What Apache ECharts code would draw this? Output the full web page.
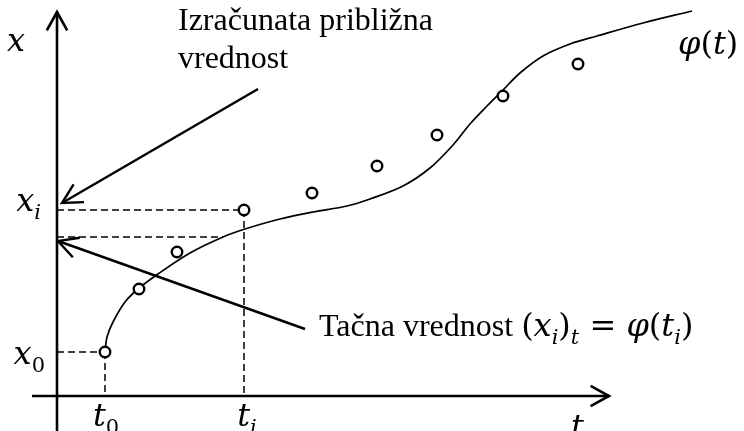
<!DOCTYPE html>
<html>
<head>
<meta charset="utf-8">
<script src="https://cdn.jsdelivr.net/npm/echarts@6/dist/echarts.min.js"></script>
<style>
  html, body { margin: 0; padding: 0; background: #fff; }
  #chart { width: 744px; height: 431px; }
</style>
</head>
<body>
<div id="chart"></div>
<script>
// Computed (approximate) values x_k at the nodes t_k
const tNodes  = [4.8, 8.2, 12.0, 18.7, 25.5, 32.0, 38.0, 44.6, 52.1];
const xApprox = [4.4, 10.7, 14.4, 18.6, 20.3, 23.0, 26.1, 30.0, 33.2];

// Exact solution phi(t), sampled along the curve
const tExact = [4.8, 5.0, 5.6, 6.8, 8.1, 10.1, 13.3, 16.6, 18.8, 22.3, 25.6, 29.0, 31.3,
                34.6, 37.3, 39.6, 41.3, 43.0, 44.6, 46.3, 48.6, 51.3, 54.0, 58.6, 63.5];
const xExact = [4.4, 5.9, 7.4, 9.4, 10.7, 12.2, 14.3, 15.9, 16.7, 17.7, 18.4, 19.0, 19.7,
                21.0, 22.8, 25.1, 27.2, 29.0, 30.6, 32.3, 34.0, 35.2, 36.0, 37.3, 38.5];

// Node t_i and the exact value (x_i)_t = phi(t_i) marked on the x axis
const iNode = 3;
const exactAtTi = 15.9;
const exactGuideEnd = 16.6;

// Coordinate axes: extent of the t axis and of the x axis
const tAxisExtent = [-2.5, 55.2];
const xAxisExtent = [-3.5, 38.4];

// Pointer arrows [tFrom, xFrom, tTo, xTo]
const pointerComputed = [20.1, 30.7, 0.5, 19.3];
const pointerExact    = [24.8, 6.7, 0.1, 15.5];

// Text
const noteComputed = 'Izračunata približna\nvrednost';
const noteExactWords = 'Tačna vrednost ';

const MATH = "'DejaVu Serif', serif";
const TEXT = "'Liberation Serif', 'Times New Roman', serif";

const mathRich = {
  v:  { fontFamily: MATH, fontStyle: 'italic', fontSize: 32, lineHeight: 36, verticalAlign: 'top', color: '#000' },
  n:  { fontFamily: MATH, fontSize: 32, lineHeight: 36, verticalAlign: 'top', color: '#000' },
  s:  { fontFamily: MATH, fontStyle: 'italic', fontSize: 21, lineHeight: 24, padding: [16, 0, 0, 0], verticalAlign: 'top', color: '#000' },
  sn: { fontFamily: MATH, fontSize: 21, lineHeight: 24, padding: [16, 0, 0, 0], verticalAlign: 'top', color: '#000' },
  w:  { fontFamily: TEXT, fontSize: 32, lineHeight: 34, verticalAlign: 'top', color: '#000' }
};

// Straight segment, optionally ending in an open arrow head
function segmentRenderer(opts) {
  return function (params, api) {
    const p1 = api.coord([api.value(0), api.value(1)]);
    const p2 = api.coord([api.value(2), api.value(3)]);
    const children = [{
      type: 'line',
      shape: { x1: p1[0], y1: p1[1], x2: p2[0], y2: p2[1] },
      style: { stroke: '#000', lineWidth: opts.width, lineDash: opts.dash || null, fill: null }
    }];
    if (opts.head) {
      const dx = p2[0] - p1[0], dy = p2[1] - p1[1];
      const len = Math.hypot(dx, dy);
      const ux = dx / len, uy = dy / len;
      const a = opts.head.angle * Math.PI / 180, L = opts.head.len;
      const arm = s => [
        p2[0] - L * (ux * Math.cos(a) - s * uy * Math.sin(a)),
        p2[1] - L * (uy * Math.cos(a) + s * ux * Math.sin(a))
      ];
      children.push({
        type: 'polyline',
        shape: { points: [arm(1), p2, arm(-1)] },
        style: { stroke: '#000', fill: null, lineWidth: opts.width, lineJoin: 'miter' }
      });
    }
    return { type: 'group', children };
  };
}

// Smooth curve through all samples (chord-scaled cubic Hermite, drawn once)
function curveRenderer(params, api) {
  if (params.dataIndex !== 0) return null;
  const pts = tExact.map((t, k) => api.coord([t, xExact[k]]));
  const n = pts.length;
  const unit = (a, b) => {
    const dx = b[0] - a[0], dy = b[1] - a[1], l = Math.hypot(dx, dy) || 1;
    return [dx / l, dy / l];
  };
  const tan = pts.map((p, k) => unit(pts[Math.max(0, k - 1)], pts[Math.min(n - 1, k + 1)]));
  let d = 'M' + pts[0][0] + ' ' + pts[0][1];
  for (let k = 0; k < n - 1; k++) {
    const a = pts[k], b = pts[k + 1];
    const h = Math.hypot(b[0] - a[0], b[1] - a[1]) / 3;
    const c1 = [a[0] + tan[k][0] * h, a[1] + tan[k][1] * h];
    const c2 = [b[0] - tan[k + 1][0] * h, b[1] - tan[k + 1][1] * h];
    d += ' C' + c1[0] + ' ' + c1[1] + ' ' + c2[0] + ' ' + c2[1] + ' ' + b[0] + ' ' + b[1];
  }
  return {
    type: 'path',
    shape: { pathData: d },
    style: { stroke: '#000', fill: null, lineWidth: 1.7 }
  };
}

const t0 = tNodes[0], x0 = xApprox[0];
const ti = tNodes[iNode], xi = xApprox[iNode];

const guides = [
  [0, x0, t0, x0],
  [t0, x0, t0, 0],
  [0, xi, ti, xi],
  [ti, xi, ti, 0],
  [0, exactAtTi, exactGuideEnd, exactAtTi]
];
const axes = [
  [tAxisExtent[0], 0, tAxisExtent[1], 0],
  [0, xAxisExtent[0], 0, xAxisExtent[1]]
];

const chart = echarts.init(document.getElementById('chart'), null, { renderer: 'canvas' });
chart.setOption({
  animation: false,
  backgroundColor: '#fff',
  grid: { left: 32, right: 0, top: 0, bottom: 0 },
  xAxis: { type: 'value', min: -2.5, max: 68.7, show: false },
  yAxis: { type: 'value', min: -3.5, max: 39.6, show: false },
  series: [
    {
      name: 'guides', type: 'custom', silent: true, z: 1,
      encode: { x: [0, 2], y: [1, 3] },
      renderItem: segmentRenderer({ width: 1.5, dash: [7, 4] }),
      data: guides
    },
    {
      name: 'axes', type: 'custom', silent: true, z: 3,
      encode: { x: [0, 2], y: [1, 3] },
      renderItem: segmentRenderer({ width: 2.6, head: { len: 21, angle: 29 } }),
      data: axes
    },
    {
      name: 'pointers', type: 'custom', silent: true, z: 3,
      encode: { x: [0, 2], y: [1, 3] },
      renderItem: segmentRenderer({ width: 2.4, head: { len: 22, angle: 28 } }),
      data: [pointerComputed, pointerExact]
    },
    {
      name: 'phi', type: 'custom', silent: true, z: 2,
      encode: { x: 0, y: 1 },
      renderItem: curveRenderer,
      data: tExact.map((t, k) => [t, xExact[k]])
    },
    {
      name: 'approx', type: 'scatter', silent: true, z: 5,
      symbol: 'circle', symbolSize: 10.5,
      itemStyle: { color: '#fff', borderColor: '#000', borderWidth: 2.4, opacity: 1 },
      data: tNodes.map((t, k) => [t, xApprox[k]])
    },
    {
      name: 'tTicks', type: 'scatter', silent: true, symbolSize: 0, z: 4,
      itemStyle: { opacity: 1, color: '#000' },
      label: { show: true, position: 'bottom', distance: 6, rich: mathRich },
      data: [
        { value: [t0, 0], label: { formatter: '{v|t}{sn|0}', offset: [1, 0] } },
        { value: [ti, 0], label: { formatter: '{v|t}{s|i}', offset: [3, 0] } }
      ]
    },
    {
      name: 'xTicks', type: 'scatter', silent: true, symbolSize: 0, z: 4,
      itemStyle: { opacity: 1, color: '#000' },
      label: { show: true, position: 'left', distance: 12, rich: mathRich },
      data: [
        { value: [0, x0], label: { formatter: '{v|x}{sn|0}', offset: [0, 6] } },
        { value: [0, xi], label: { formatter: '{v|x}{s|i}', offset: [-4, -5] } }
      ]
    }
  ],
  graphic: [
    { type: 'text', x: 7, y: 27, silent: true,
      style: { text: '{v|x}', rich: mathRich } },
    { type: 'text', x: 571, y: 413, silent: true,
      style: { text: '{v|t}', rich: mathRich } },
    { type: 'text', x: 678, y: 30, silent: true,
      style: { text: '{v|φ}{n|(}{v|t}{n|)}', rich: mathRich } },
    { type: 'text', x: 178, y: 3, silent: true,
      style: { text: noteComputed, fontFamily: TEXT, fontSize: 32, lineHeight: 38, fill: '#000' } },
    { type: 'text', x: 319, y: 312, silent: true,
      style: {
        text: '{w|' + noteExactWords + '}{n|(}{v|x}{s|i}{n|)}{s|t}{n| = }{v|φ}{n|(}{v|t}{s|i}{n|)}',
        rich: mathRich
      } }
  ]
});
</script>
</body>
</html>
